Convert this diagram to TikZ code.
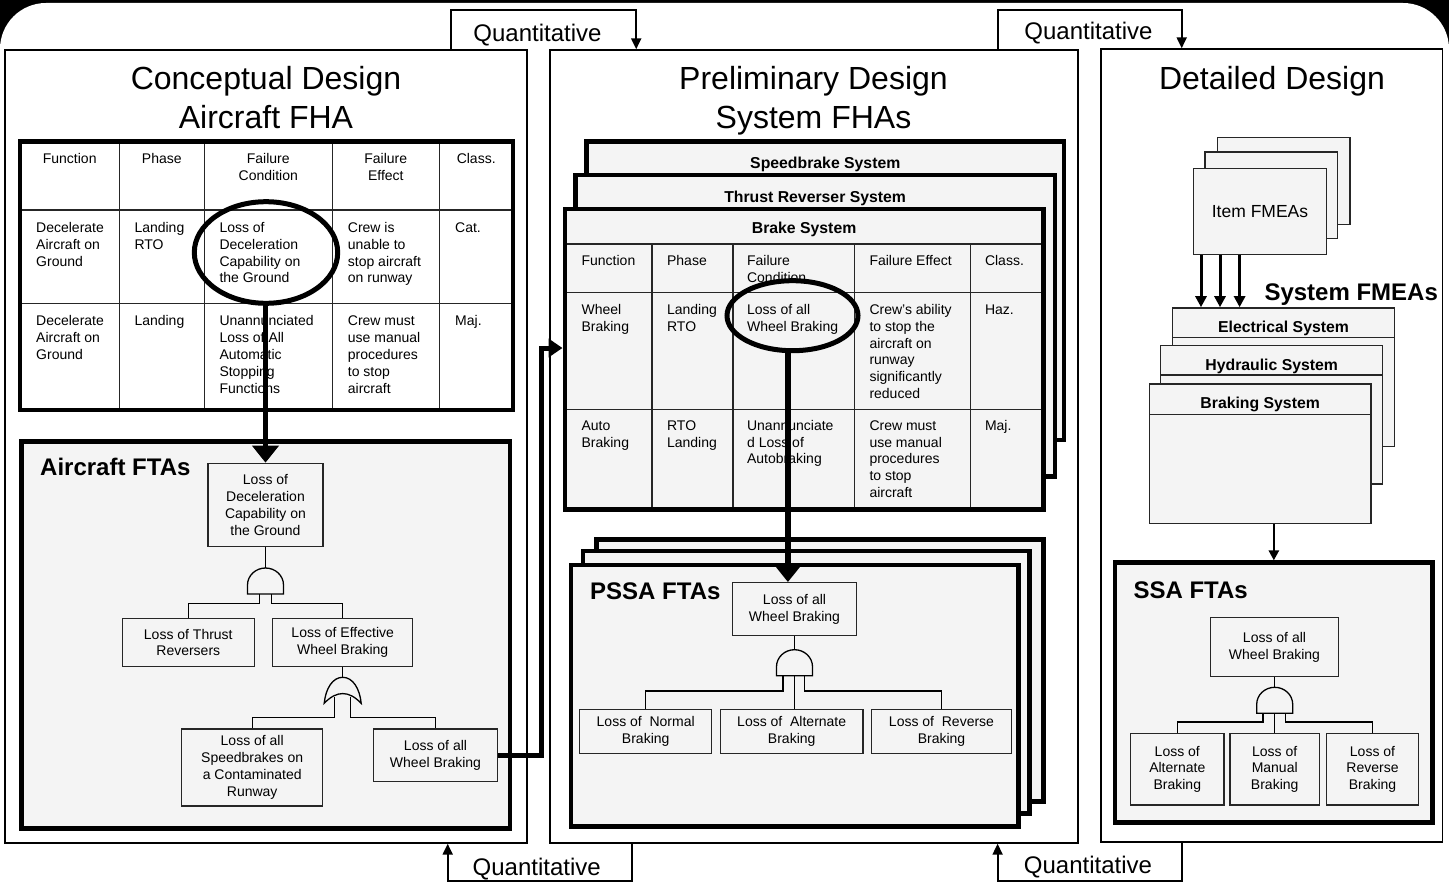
\documentclass[tikz,border=0pt]{standalone}
\usepackage{fontspec}
\setmainfont{Liberation Sans}
\usetikzlibrary{arrows.meta,shapes.geometric,calc}
\definecolor{panel}{HTML}{F4F4F4}
\newcommand\tabfont{\fontsize{14}{16.8}\selectfont}
\newcommand\headfont{\fontsize{15.8}{19}\selectfont\bfseries}
\newcommand\titlefont{\fontsize{32}{39}\selectfont}
\newcommand\labfont{\fontsize{24}{29}\selectfont\bfseries}
\newcommand\qfont{\fontsize{24}{29}\selectfont}
\newcommand\itemfont{\fontsize{17.5}{21}\selectfont}
\begin{document}
\begin{tikzpicture}[x=1pt,y=-1pt,
  frame/.style={draw=black, line width=1.4pt, fill=white, inner sep=0pt},
  thickbox/.style={draw=black, line width=4.6pt, fill=panel, inner sep=0pt},
  thinsheet/.style={draw=black!85, line width=1.4pt, fill=panel, inner sep=0pt},
  ftnode/.style={draw=black!85, line width=1.3pt, fill=panel, inner sep=0pt, align=center, font=\tabfont},
  cell/.style={anchor=north west, inner sep=0pt, align=left, font=\tabfont},
  hcell/.style={anchor=north, inner sep=0pt, align=center, font=\tabfont},
  grid/.style={line width=1.3pt, draw=black!85},
  tree/.style={line width=1.3pt, draw=black},
  gateline/.style={line width=1.3pt, draw=black, fill=panel},
  hilite/.style={ellipse, draw=black, line width=5pt, inner sep=0pt},
  conn/.style={line width=5.5pt, -{Triangle[width=26pt,length=17pt]}},
  wconn/.style={line width=5pt, -{Triangle[width=18pt,length=14pt]}},
  flow/.style={line width=2pt, -{Triangle[width=10pt,length=11pt]}},
  feed/.style={line width=3pt, -{Triangle[width=11pt,length=11pt]}},
  title/.style={font=\titlefont, anchor=base, inner sep=0pt},
  boldlab/.style={font=\labfont, anchor=base west, inner sep=0pt},
  shead/.style={font=\headfont, anchor=base, inner sep=0pt},
  qtext/.style={font=\qfont, anchor=base, inner sep=0pt},
  andgate/.pic={\path[gateline] (-18,0) -- (-18,-9) .. controls (-18,-18.4) and (-9.9,-26) .. (0,-26) .. controls (9.9,-26) and (18,-18.4) .. (18,-9) -- (18,0) -- cycle;},
  orgate/.pic={\path[gateline] (-18.5,0) .. controls (-17,-15) and (-10,-26) .. (0,-26) .. controls (10,-26) and (17,-15) .. (18.5,0) .. controls (6,-13) and (-6,-13) .. cycle;}
]
\useasboundingbox (0,0) rectangle (1449,883);
\clip (0,0) rectangle (1449,883);
% dark surround with the rounded white sheet
\fill[black] (0,0) rectangle (1449,883);
\fill[white, rounded corners=46pt] (0,3) rectangle (1449,950);

% ---------- phase frames ----------
\node[frame, minimum width=522pt, minimum height=793pt] (concF) at (266,446.5) {};
\node[frame, minimum width=528pt, minimum height=793pt] (prelF) at (814,446.5) {};
\node[frame, minimum width=341.3pt, minimum height=793pt] (detF) at (1271.65,445.5) {};

% ---------- quantitative feedback loops ----------
\coordinate (qTL) at (450.7,10); \coordinate (qTR) at (636.2,10);
\draw[flow] (qTL |- concF.north) -- (qTL) -- (qTR) -- (qTR |- prelF.north);
\node[qtext] (qt1) at (537.5,41.6) {Quantitative};
\coordinate (qTL2) at (997.6,10); \coordinate (qTR2) at (1181.7,10);
\draw[flow] (qTL2 |- prelF.north) -- (qTL2) -- (qTR2) -- (qTR2 |- detF.north);
\node[qtext] (qt2) at (1088.5,39.6) {Quantitative};
\coordinate (qBL) at (447.7,881); \coordinate (qBR) at (631.7,881);
\draw[flow] (qBR |- prelF.south) -- (qBR) -- (qBL) -- (qBL |- concF.south);
\node[qtext] (qt3) at (536.7,875.3) {Quantitative};
\coordinate (qBL2) at (997.6,881); \coordinate (qBR2) at (1181.7,881);
\draw[flow] (qBR2 |- detF.south) -- (qBR2) -- (qBL2) -- (qBL2 |- prelF.south);
\node[qtext] (qt4) at (1088,873.6) {Quantitative};

% ---------- titles ----------
\node[title] (t1a) at (266,89.5) {Conceptual Design};
\node[title] (t1b) at (266,128.5) {Aircraft FHA};
\node[title] (t2a) at (813.5,89.5) {Preliminary Design};
\node[title] (t2b) at (813.5,128.5) {System FHAs};
\node[title] (t3) at (1272,89.5) {Detailed Design};

% ---------- aircraft FHA table ----------
\fill[white] (20,141.7) rectangle (513,410);
\foreach \x in {119.3,204.3,332.3,439.3} \draw[grid] (\x,141.7) -- (\x,410);
\foreach \y in {210,303.3} \draw[grid] (20,\y) -- (513,\y);
\draw[line width=4.6pt] (20,141.7) rectangle (513,410);
\node[hcell] (fhaH1) at (69.7,151.6) {\strut Function};
\node[hcell] (fhaH2) at (161.8,151.6) {\strut Phase};
\node[hcell] (fhaH3) at (268.3,151.6) {\strut Failure\\Condition};
\node[hcell] (fhaH4) at (385.8,151.6) {\strut Failure\\Effect};
\node[hcell] (fhaH5) at (476.2,151.6) {\strut Class.};
\node[cell] (fhaA1) at (36,220.6) {\strut Decelerate\\Aircraft on\\Ground};
\node[cell] (fhaA2) at (134.3,220.6) {\strut Landing\\RTO};
\node[cell] (fhaA3) at (219.3,220.6) {\strut Loss of\\Deceleration\\Capability on\\the Ground};
\node[cell] (fhaA4) at (347.7,220.6) {\strut Crew is\\unable to\\stop aircraft\\on runway};
\node[cell] (fhaA5) at (455,220.6) {\strut Cat.};
\node[cell] (fhaB1) at (36,314) {\strut Decelerate\\Aircraft on\\Ground};
\node[cell] (fhaB2) at (134.3,314) {\strut Landing};
\node[cell] (fhaB3) at (219.3,314) {\strut Unannunciated\\Loss of All\\Automatic\\Stopping\\Functions};
\node[cell] (fhaB4) at (347.7,314) {\strut Crew must\\use manual\\procedures\\to stop\\aircraft};
\node[cell] (fhaB5) at (455,314) {\strut Maj.};

% ---------- aircraft FTAs ----------
\node[thickbox, minimum width=488.3pt, minimum height=386.6pt] (acBox) at (265.85,635) {};
\node[boldlab] (acLab) at (40,475.9) {Aircraft FTAs};
\node[ftnode, minimum width=115pt, minimum height=83.4pt] (acTop) at (265.5,505) {Loss of\\Deceleration\\Capability on\\the Ground};
\node[ftnode, minimum width=132pt, minimum height=48.4pt] (acThrust) at (188.3,642.5) {Loss of Thrust\\Reversers};
\node[ftnode, minimum width=140pt, minimum height=48.4pt] (acEff) at (342.7,642.5) {Loss of Effective\\Wheel Braking};
\node[ftnode, minimum width=141pt, minimum height=77pt] (acSpeed) at (252.2,767.5) {Loss of all\\Speedbrakes on\\a Contaminated\\Runway};
\node[ftnode, minimum width=124.4pt, minimum height=52.7pt] (acWheel) at (435.5,755.3) {Loss of all\\Wheel Braking};
% AND gate under the top event
\coordinate (g1) at (265.5,594); \coordinate (g1t) at (265.5,568);
\draw[tree] (acTop.south) -- (g1t);
\pic at (g1) {andgate};
\draw[tree] ([xshift=-6pt]g1) -- ++(0,9.3) -| (acThrust.north);
\draw[tree] ([xshift=6pt]g1) -- ++(0,9.3) -| (acEff.north);
% OR gate under effective wheel braking
\coordinate (g2) at (342.7,703.3); \coordinate (g2t) at (342.7,677.3);
\draw[tree] (acEff.south) -- (g2t);
\pic at (g2) {orgate};
\draw[tree] ([xshift=-8pt,yshift=6.5pt]g2) -- ++(0,20.5) -| (acSpeed.north);
\draw[tree] ([xshift=8pt,yshift=6.5pt]g2) -- ++(0,20.5) -| (acWheel.north);

% highlight in the aircraft FHA and link down to the FTA
\node[hilite, minimum width=143.4pt, minimum height=101.6pt] (e1) at (266,252.5) {};
\draw[conn] (e1.south -| acTop.north) -- (acTop.north);

% ---------- system FHA sheets ----------
\node[thickbox, minimum width=477.4pt, minimum height=298.3pt] (speedSh) at (825.3,290.85) {};
\node[shead] (speedLab) at (825.3,168) {Speedbrake System};
\node[thickbox, minimum width=479.3pt, minimum height=301.7pt] (thrustSh) at (815.15,325.85) {};
\node[shead] (thrustLab) at (815.15,202.4) {Thrust Reverser System};
\node[thickbox, minimum width=478.6pt, minimum height=300.3pt] (brakeTbl) at (804.1,359.15) {};
\node[shead] (brakeLab) at (804.1,233.4) {Brake System};
\draw[grid] (564.8,244) -- (1043.4,244);
\foreach \x in {652,733,854.5,970.3} \draw[grid] (\x,244) -- (\x,509.3);
\foreach \y in {292.7,409.3} \draw[grid] (564.8,\y) -- (1043.4,\y);
\draw[line width=4.6pt] (564.8,209) rectangle (1043.4,509.3);
\node[cell] (bkH1) at (581.4,253.3) {\strut Function};
\node[cell] (bkH2) at (666.9,253.3) {\strut Phase};
\node[cell] (bkH3) at (746.9,253.3) {\strut Failure\\Condition};
\node[cell] (bkH4) at (869.3,253.3) {\strut Failure Effect};
\node[cell] (bkH5) at (984.8,253.3) {\strut Class.};
\node[cell] (bkA1) at (581.4,302.6) {\strut Wheel\\Braking};
\node[cell] (bkA2) at (666.9,302.6) {\strut Landing\\RTO};
\node[cell] (bkA3) at (746.9,302.6) {\strut Loss of all\\Wheel Braking};
\node[cell] (bkA4) at (869.3,302.6) {\strut Crew’s ability\\to stop the\\aircraft on\\runway\\significantly\\reduced};
\node[cell] (bkA5) at (984.8,302.6) {\strut Haz.};
\node[cell] (bkB1) at (581.4,418.3) {\strut Auto\\Braking};
\node[cell] (bkB2) at (666.9,418.3) {\strut RTO\\Landing};
\node[cell] (bkB3) at (746.9,418.3) {\strut Unannunciate\\d Loss of\\Autobraking};
\node[cell] (bkB4) at (869.3,418.3) {\strut Crew must\\use manual\\procedures\\to stop\\aircraft};
\node[cell] (bkB5) at (984.8,418.3) {\strut Maj.};

% aircraft FTA event feeding the brake system FHA
\coordinate (jog) at (541,348);
\draw[wconn] (acWheel.east) -| (jog) -- (jog -| brakeTbl.west);

% ---------- PSSA FTAs ----------
\node[thickbox, minimum width=447.2pt, minimum height=262.4pt] (pssaB) at (819.8,670.5) {};
\node[thickbox, minimum width=446.6pt, minimum height=262.3pt] (pssaM) at (806.4,682.15) {};
\node[thickbox, minimum width=447.3pt, minimum height=261.7pt] (pssaF) at (794.65,695.85) {};
\node[boldlab] (psLab) at (590,599.3) {PSSA FTAs};
\node[ftnode, minimum width=124.2pt, minimum height=53pt] (psTop) at (794.5,609.2) {Loss of all\\Wheel Braking};
\node[ftnode, minimum width=132pt, minimum height=44pt] (psN) at (645.7,731.3) {Loss of\ \ Normal\\Braking};
\node[ftnode, minimum width=142.8pt, minimum height=44pt] (psA) at (791.7,731.3) {Loss of\ \ Alternate\\Braking};
\node[ftnode, minimum width=139.7pt, minimum height=44pt] (psR) at (941.5,731.3) {Loss of\ \ Reverse\\Braking};
\coordinate (g3) at (794.5,675.7); \coordinate (g3t) at (794.5,650);
\draw[tree] (psTop.south) -- (g3t);
\pic at (g3) {andgate};
\draw[tree] ([xshift=-11.5pt]g3) -- ++(0,15.3) -| (psN.north);
\draw[tree] (g3) -- (g3 |- psA.north);
\draw[tree] ([xshift=10pt]g3) -- ++(0,15.3) -| (psR.north);

% highlight in the brake system FHA and link down to the PSSA
\node[hilite, minimum width=131pt, minimum height=70pt] (e2) at (792.5,315.7) {};
\draw[conn] (e2.263) -- (e2.263 |- psTop.north);

% ---------- detailed design ----------
\node[thinsheet, minimum width=132.7pt, minimum height=86.8pt] (itemB) at (1283.65,180.9) {};
\node[thinsheet, minimum width=132.3pt, minimum height=86.8pt] (itemM) at (1271.15,195.2) {};
\node[thinsheet, minimum width=133.4pt, minimum height=86pt, font=\itemfont] (itemF) at (1260,211.6) {Item FMEAs};

\node[thinsheet, minimum width=221.6pt, minimum height=138.5pt] (elec) at (1283.5,377.15) {};
\draw[grid] (1172.7,337.5) -- (1394.3,337.5);
\node[shead] (elecLab) at (1283.5,332.5) {Electrical System};
\node[thinsheet, minimum width=222pt, minimum height=138.2pt] (hyd) at (1271.7,414.8) {};
\draw[grid] (1160.7,375) -- (1382.7,375);
\node[shead] (hydLab) at (1271.7,370) {Hydraulic System};
\node[thinsheet, minimum width=221.7pt, minimum height=139.3pt] (brk) at (1260.15,453.55) {};
\draw[grid] (1149.3,414.3) -- (1371,414.3);
\node[shead] (brkLab) at (1260.15,408.6) {Braking System};
\node[boldlab] (sysLab) at (1264.3,300) {System FMEAs};

\foreach \dx in {8.4,27.4,47} \draw[feed] ([xshift=\dx pt]itemF.south west) -- ([xshift=\dx pt]itemF.south west |- elec.north);

\node[thickbox, minimum width=317.7pt, minimum height=260pt] (ssaBox) at (1273.85,692.7) {};
\draw[line width=2.6pt, -{Triangle[width=10pt,length=10pt]}] (brk.south -| ssaBox.north) -- (ssaBox.north);
\node[boldlab] (ssLab) at (1133.3,598.6) {SSA FTAs};
\node[ftnode, minimum width=127.6pt, minimum height=59.4pt] (ssTop) at (1274.5,647) {Loss of all\\Wheel Braking};
\node[ftnode, minimum width=93.3pt, minimum height=71.7pt] (ssAlt) at (1177.3,769.2) {Loss of\\Alternate\\Braking};
\node[ftnode, minimum width=89.3pt, minimum height=71.7pt] (ssMan) at (1274.7,769.2) {Loss of\\Manual\\Braking};
\node[ftnode, minimum width=91.6pt, minimum height=71.7pt] (ssRev) at (1372.5,769.2) {Loss of\\Reverse\\Braking};
\coordinate (g4) at (1274.7,713.3); \coordinate (g4t) at (1274.7,687);
\draw[tree] (ssTop.south -| g4t) -- (g4t);
\pic at (g4) {andgate};
\draw[tree] ([xshift=-11.7pt]g4) -- ++(0,8.7) -| (ssAlt.north);
\draw[tree] (g4) -- (g4 |- ssMan.north);
\draw[tree] ([xshift=11pt]g4) -- ++(0,8.7) -| (ssRev.north);
\end{tikzpicture}
\end{document}
